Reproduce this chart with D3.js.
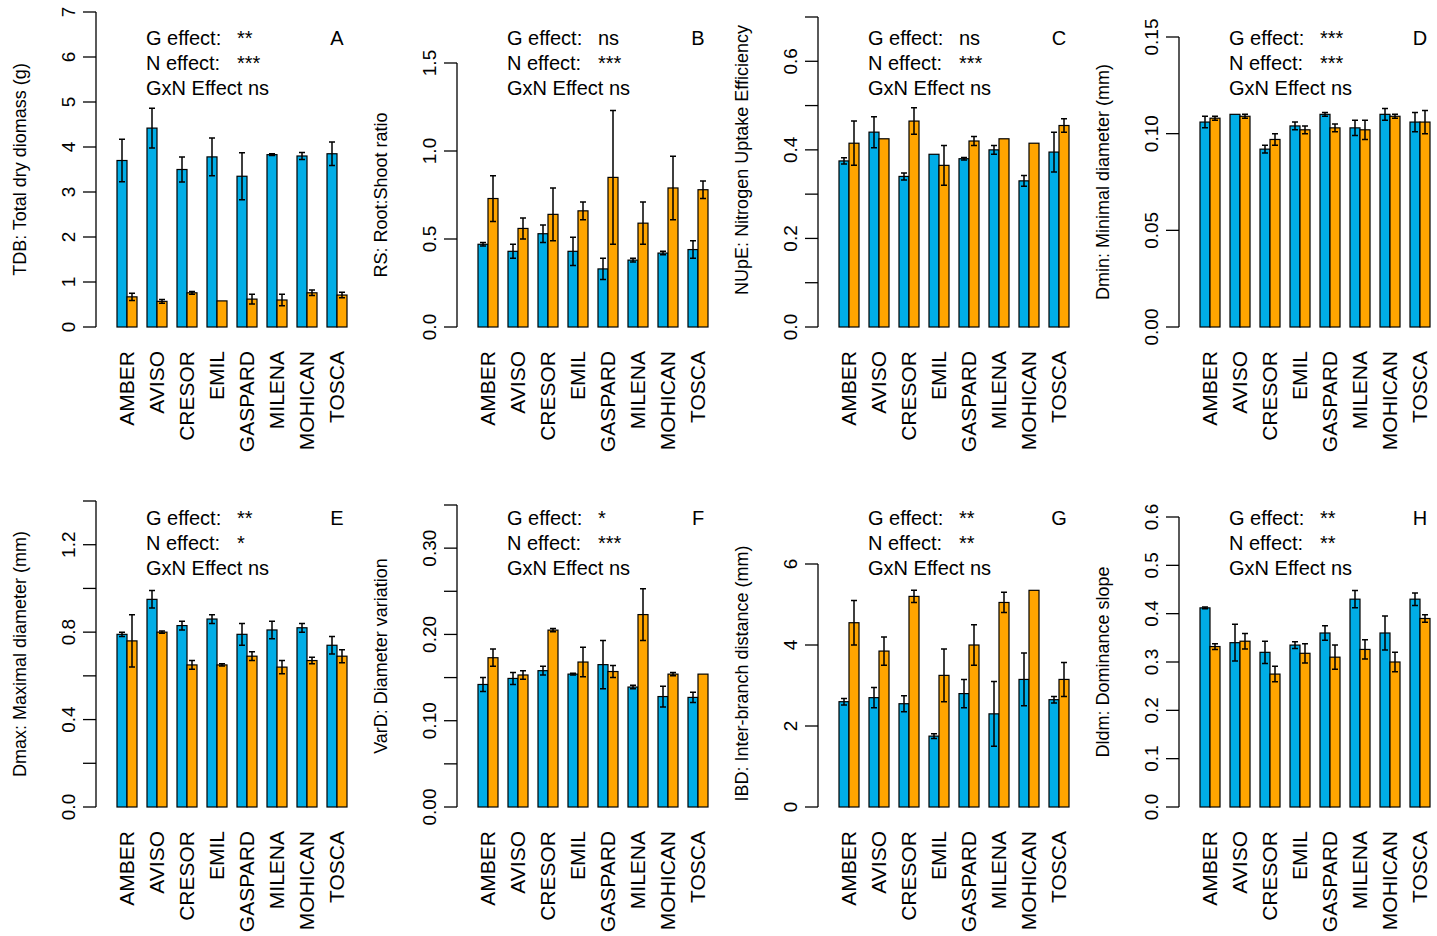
<!DOCTYPE html>
<meta charset="utf-8">
<script src="https://d3js.org/d3.v7.min.js"></script>
<style>body{margin:0;background:#fff}</style>
<div id="chart"></div>
<script>
var width = 1437, height = 936;

var genotypes = ["AMBER","AVISO","CRESOR","EMIL","GASPARD","MILENA","MOHICAN","TOSCA"];

// mean and half error bar, blue = high N, orange = low N
var tdb_b = [3.7,4.42,3.5,3.78,3.35,3.83,3.8,3.85],      tdb_be = [0.47,0.44,0.28,0.42,0.52,0.02,0.08,0.26];
var tdb_o = [0.67,0.57,0.76,0.58,0.62,0.6,0.76,0.71],    tdb_oe = [0.08,0.04,0.03,0,0.11,0.13,0.06,0.06];
var rs_b = [0.47,0.43,0.53,0.43,0.33,0.38,0.42,0.44],    rs_be = [0.01,0.04,0.05,0.08,0.06,0.01,0.01,0.05];
var rs_o = [0.73,0.56,0.64,0.66,0.85,0.59,0.79,0.78],    rs_oe = [0.13,0.06,0.15,0.05,0.38,0.12,0.18,0.05];
var nupe_b = [0.375,0.44,0.34,0.39,0.38,0.4,0.33,0.395], nupe_be = [0.007,0.035,0.008,0,0.003,0.01,0.012,0.045];
var nupe_o = [0.415,0.425,0.465,0.365,0.42,0.425,0.415,0.455], nupe_oe = [0.05,0,0.03,0.045,0.01,0,0,0.015];
var dmin_b = [0.106,0.110,0.092,0.104,0.110,0.103,0.110,0.106], dmin_be = [0.003,0,0.002,0.002,0.001,0.004,0.003,0.005];
var dmin_o = [0.108,0.109,0.097,0.102,0.103,0.102,0.109,0.106], dmin_oe = [0.001,0.001,0.003,0.002,0.002,0.005,0.001,0.006];
var dmax_b = [0.79,0.95,0.83,0.86,0.79,0.81,0.82,0.74],  dmax_be = [0.01,0.04,0.02,0.02,0.05,0.04,0.02,0.04];
var dmax_o = [0.76,0.80,0.65,0.65,0.69,0.64,0.67,0.69],  dmax_oe = [0.12,0.005,0.02,0.005,0.02,0.03,0.015,0.03];
var vard_b = [0.142,0.149,0.158,0.154,0.165,0.139,0.128,0.127], vard_be = [0.008,0.007,0.005,0.001,0.028,0.002,0.012,0.006];
var vard_o = [0.173,0.153,0.205,0.168,0.157,0.223,0.154,0.154], vard_oe = [0.01,0.005,0.002,0.017,0.007,0.03,0.002,0];
var ibd_b = [2.6,2.7,2.55,1.75,2.8,2.3,3.15,2.65],       ibd_be = [0.08,0.25,0.2,0.06,0.35,0.8,0.65,0.08];
var ibd_o = [4.55,3.85,5.2,3.25,4.0,5.05,5.35,3.15],     ibd_oe = [0.55,0.35,0.15,0.65,0.5,0.25,0,0.42];
var dldm_b = [0.412,0.34,0.32,0.335,0.36,0.43,0.36,0.43], dldm_be = [0.002,0.038,0.023,0.007,0.015,0.018,0.035,0.013];
var dldm_o = [0.332,0.343,0.275,0.318,0.31,0.326,0.3,0.39], dldm_oe = [0.006,0.016,0.016,0.02,0.025,0.02,0.02,0.008];

var titles = ["TDB: Total dry diomass (g)","RS: Root:Shoot ratio","NUpE: Nitrogen Uptake Efficiency","Dmin: Minimal diameter (mm)",
              "Dmax: Maximal diameter (mm)","VarD: Diameter variation","IBD: Inter-branch distance (mm)","Dldm: Dominance slope"];
var letters = ["A","B","C","D","E","F","G","H"];
var gEff = ["**","ns","ns","***","**","*","**","**"];
var nEff = ["***","***","***","***","*","***","**","**"];
var ymax = [7,1.5,0.7,0.15,1.4,0.35,6,0.6];
var ticks = [[0,1,2,3,4,5,6,7],[0,0.5,1,1.5],[0,0.1,0.2,0.3,0.4,0.5,0.6,0.7],[0,0.05,0.1,0.15],
             [0,0.2,0.4,0.6,0.8,1,1.2,1.4],[0,0.05,0.1,0.15,0.2,0.25,0.3,0.35],[0,2,4,6],[0,0.1,0.2,0.3,0.4,0.5,0.6]];
var labelled = [[0,1,2,3,4,5,6,7],[0,0.5,1,1.5],[0,0.2,0.4,0.6],[0,0.05,0.1,0.15],
                [0,0.4,0.8,1.2],[0,0.1,0.2,0.3],[0,2,4,6],[0,0.1,0.2,0.3,0.4,0.5,0.6]];
var fmt = [d3.format("d"),d3.format(".1f"),d3.format(".1f"),d3.format(".2f"),d3.format(".1f"),d3.format(".2f"),d3.format("d"),d3.format(".1f")];
var blue = [tdb_b,rs_b,nupe_b,dmin_b,dmax_b,vard_b,ibd_b,dldm_b];
var blueE = [tdb_be,rs_be,nupe_be,dmin_be,dmax_be,vard_be,ibd_be,dldm_be];
var orange = [tdb_o,rs_o,nupe_o,dmin_o,dmax_o,vard_o,ibd_o,dldm_o];
var orangeE = [tdb_oe,rs_oe,nupe_oe,dmin_oe,dmax_oe,vard_oe,ibd_oe,dldm_oe];

// top of scale position per panel
var topPx = [12,63,17,37,501,505,564,517];
var colB = "#00ADE6", colO = "#FFA500";

var svg = d3.select("#chart").append("svg").attr("width",width).attr("height",height)
  .style("font-family","Liberation Sans, Arial, sans-serif");

for (let p=0; p<8; p++){
  let col = p%4, row = Math.floor(p/4);
  let ax = 96 + col*361;
  let base = row==0 ? 327 : 807;
  let g = svg.append("g");
  let y = d3.scaleLinear().domain([0,ymax[p]]).range([base, topPx[p]]);
  // groups 20px wide, 10px gap
  let x = d3.scaleBand().domain(genotypes).range([ax+21, ax+251]).paddingInner(1/3).paddingOuter(0);
  let bw = x.bandwidth()/2;

  // axis
  g.append("line").attr("x1",ax).attr("x2",ax).attr("y1",y(0)).attr("y2",y(ymax[p])).attr("stroke","#000").attr("stroke-width",1.3);
  g.selectAll(".tk").data(ticks[p]).join("line")
    .attr("x1",ax-13).attr("x2",ax).attr("y1",d=>y(d)).attr("y2",d=>y(d)).attr("stroke","#000").attr("stroke-width",1.3);
  g.selectAll(".tl").data(labelled[p]).join("text")
    .attr("transform",d=>"translate("+(ax-21)+","+y(d)+") rotate(-90)")
    .attr("text-anchor","middle").style("font-size","19px").text(d=>fmt[p](d));
  g.append("text")
    .attr("transform","translate("+(ax-70)+","+((base+y(ymax[p]))/2 + (p%4==2?-12:0))+") rotate(-90)")
    .attr("text-anchor","middle").style("font-size","18px").text(titles[p]);

  let data = genotypes.map((k,i)=>({k:k,b:blue[p][i],be:blueE[p][i],o:orange[p][i],oe:orangeE[p][i]}));
  let gr = g.selectAll(".grp").data(data).join("g").attr("transform",d=>"translate("+x(d.k)+",0)");
  gr.append("rect").attr("x",0).attr("width",bw).attr("y",d=>y(d.b)).attr("height",d=>y(0)-y(d.b))
    .attr("fill",colB).attr("stroke","#000").attr("stroke-width",1.2);
  gr.append("rect").attr("x",bw).attr("width",bw).attr("y",d=>y(d.o)).attr("height",d=>y(0)-y(d.o))
    .attr("fill",colO).attr("stroke","#000").attr("stroke-width",1.2);
  // error bars
  [["b","be",bw/2],["o","oe",bw*1.5]].forEach(function(s){
    gr.filter(d=>d[s[1]]>0).append("path")
      .attr("d",d=>{let t=y(d[s[0]]+d[s[1]]), b=y(d[s[0]]-d[s[1]]), c=s[2];
        return "M"+c+","+t+"V"+b+"M"+(c-3)+","+t+"H"+(c+3)+"M"+(c-3)+","+b+"H"+(c+3);})
      .attr("stroke","#000").attr("stroke-width",1.5).attr("fill","none");
  });
  // category labels
  gr.append("text").attr("transform","translate("+(bw+7)+","+(base+24)+") rotate(-90)")
    .attr("text-anchor","end").style("font-size","21px").text(d=>d.k);

  // annotations
  let ty = row==0 ? 38 : 518;
  let ann = g.append("g").style("font-size","20px");
  ann.append("text").attr("x",ax+50).attr("y",ty+7).text("G effect:");
  ann.append("text").attr("x",ax+141).attr("y",ty+7).text(gEff[p]);
  ann.append("text").attr("x",ax+50).attr("y",ty+32).text("N effect:");
  ann.append("text").attr("x",ax+141).attr("y",ty+32).text(nEff[p]);
  ann.append("text").attr("x",ax+50).attr("y",ty+57).text("GxN Effect ns");
  ann.append("text").attr("x",ax+241).attr("y",ty+7).attr("text-anchor","middle").text(letters[p]);
}
</script>
